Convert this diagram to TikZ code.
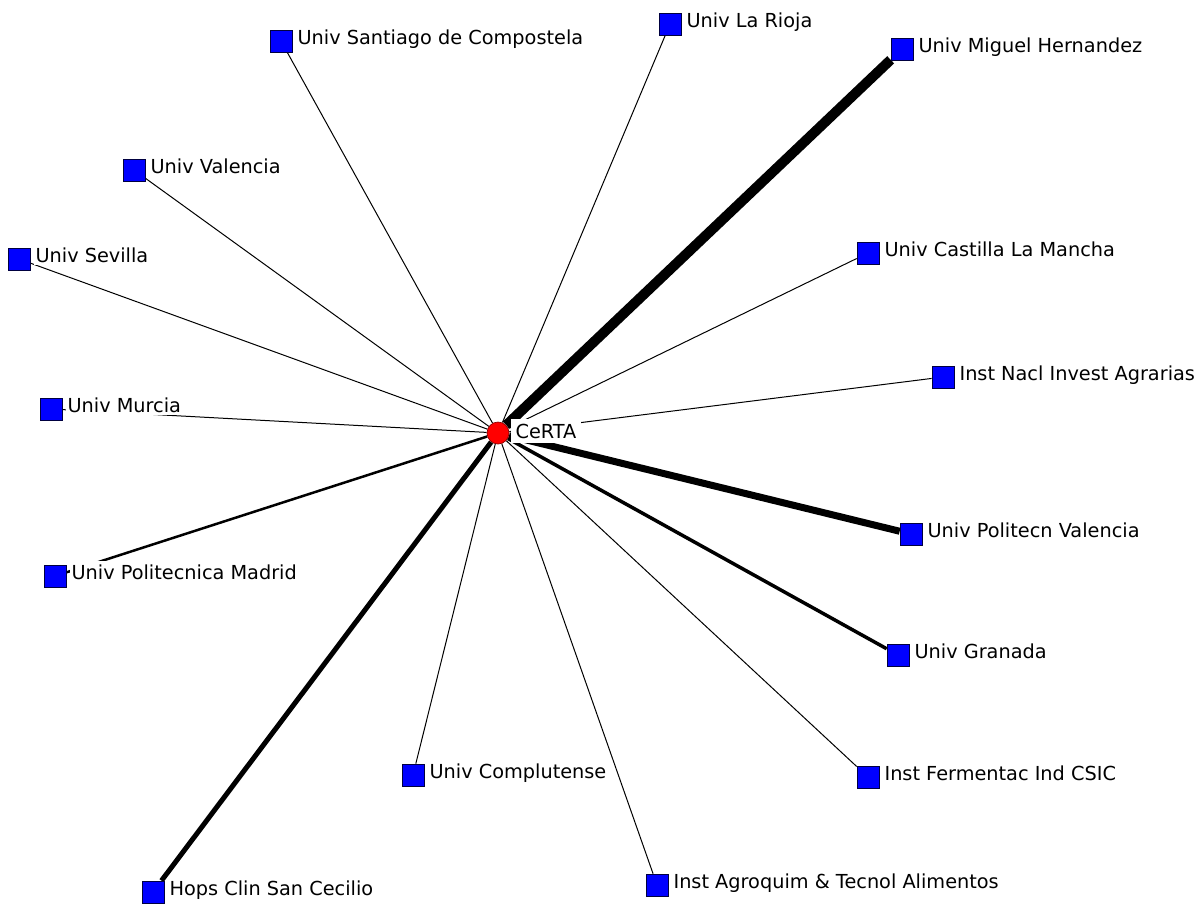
\documentclass[tikz,border=0pt]{standalone}
\usepackage{fontspec}
\setmainfont{DejaVu Sans}
\pgfdeclarelayer{bg}
\pgfsetlayers{bg,main}
\tikzset{
	inst/.style={draw=black!75!blue, fill=blue, line width=0.7pt, minimum size=22pt, inner sep=0pt},
	hub/.style={circle, draw=red!55!black, fill=red, line width=0.7pt, minimum size=22pt, inner sep=0pt},
	lbl/.style={fill=white, inner xsep=2pt, inner ysep=3pt, anchor=base west, xshift=3pt, yshift=-3pt, font=\fontsize{19.3}{22}\selectfont},
	tie/.style={line width=#1},
	tie/.default=1pt
}

\begin{document}
\begin{tikzpicture}[x=1pt,y=-1pt]
		%%%%% START %%%%%
		\useasboundingbox (0,0) rectangle (1204,906);
		
		% centre
		\node[hub] (certa) at (498,433) {};
		\node[lbl, xshift=-2pt, yshift=-2pt, inner xsep=5pt, inner ysep=5pt] (certa-t) at (certa.east) {CeRTA};
		
		% partners
		\node[inst] (santiago) at (281,41) {};
		\node[inst] (rioja) at (670,24) {};
		\node[inst] (miguel) at (902,49) {};
		\node[inst] (valencia) at (134,170) {};
		\node[inst] (castilla) at (868,253) {};
		\node[inst] (sevilla) at (19,259) {};
		\node[inst] (inia) at (943,377) {};
		\node[inst] (murcia) at (51,409) {};
		\node[inst] (upv) at (911,534) {};
		\node[inst] (upm) at (55,576) {};
		\node[inst] (granada) at (898,655) {};
		\node[inst] (complutense) at (413,775) {};
		\node[inst] (fermentac) at (868,777) {};
		\node[inst] (cecilio) at (153,892) {};
		\node[inst] (agroquim) at (657,885) {};
		
		\node[lbl] (santiago-t) at (santiago.east) {Univ Santiago de Compostela};
		\node[lbl] (rioja-t) at (rioja.east) {Univ La Rioja};
		\node[lbl] (miguel-t) at (miguel.east) {Univ Miguel Hernandez};
		\node[lbl] (valencia-t) at (valencia.east) {Univ Valencia};
		\node[lbl] (castilla-t) at (castilla.east) {Univ Castilla La Mancha};
		\node[lbl] (sevilla-t) at (sevilla.east) {Univ Sevilla};
		\node[lbl] (inia-t) at (inia.east) {Inst Nacl Invest Agrarias};
		\node[lbl] (murcia-t) at (murcia.east) {Univ Murcia};
		\node[lbl] (upv-t) at (upv.east) {Univ Politecn Valencia};
		\node[lbl] (upm-t) at (upm.east) {Univ Politecnica Madrid};
		\node[lbl] (granada-t) at (granada.east) {Univ Granada};
		\node[lbl] (complutense-t) at (complutense.east) {Univ Complutense};
		\node[lbl] (fermentac-t) at (fermentac.east) {Inst Fermentac Ind CSIC};
		\node[lbl] (cecilio-t) at (cecilio.east) {Hops Clin San Cecilio};
		\node[lbl] (agroquim-t) at (agroquim.east) {Inst Agroquim \& Tecnol Alimentos};
		
		% ties, width = strength
		\begin{pgfonlayer}{bg}
			\draw[tie] (certa) -- (santiago);
			\draw[tie] (certa) -- (rioja);
			\draw[tie=10pt] (certa) -- (miguel);
			\draw[tie] (certa) -- (valencia);
			\draw[tie] (certa) -- (castilla);
			\draw[tie] (certa) -- (sevilla);
			\draw[tie] (certa) -- (inia);
			\draw[tie] (certa) -- (murcia);
			\draw[tie=7pt] (certa) -- (upv);
			\draw[tie=2.5pt] (certa) -- (upm);
			\draw[tie=3.5pt] (certa) -- (granada);
			\draw[tie] (certa) -- (complutense);
			\draw[tie] (certa) -- (fermentac);
			\draw[tie=5pt] (certa) -- (cecilio);
			\draw[tie] (certa) -- (agroquim);
		\end{pgfonlayer}
		%%%%% END %%%%%
	\end{tikzpicture}
\end{document}
